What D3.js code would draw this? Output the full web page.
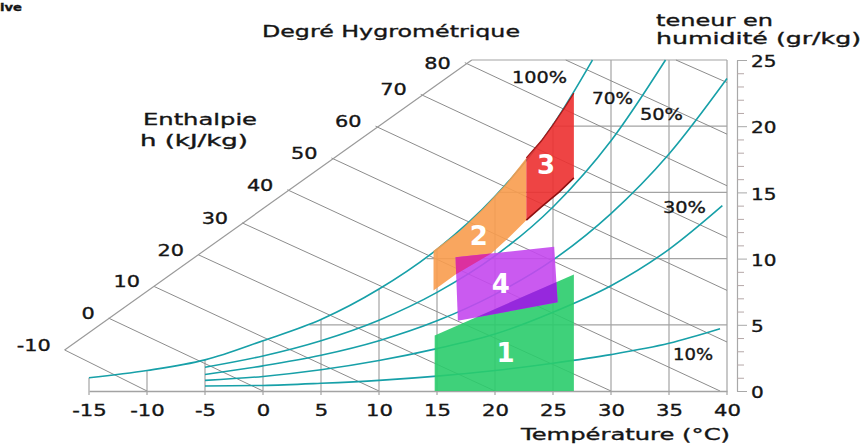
<!DOCTYPE html>
<html>
<head>
<meta charset="utf-8">
<script src="https://cdn.jsdelivr.net/npm/d3@7"></script>
<style>
  body { margin: 0; background: #fff; }
  svg { display: block; font-family: "DejaVu Sans", Verdana, sans-serif; }
  .txt { stroke: #151515; stroke-width: 0.35px; }
</style>
</head>
<body>
<svg id="chart" width="866" height="446"></svg>
<script>
// dry bulb temperature ticks (°C) and the top of each vertical grid line (g/kg)
const tempTicks = [-15, -10, -5, 0, 5, 10, 15, 20, 25, 30, 35, 40];
const tempGridTop = [1.0, 1.55, 2.35, 3.8, 5.4, 7.7, 10.7, 14.7, 20.2, 25, 25, 25];

// moisture content ticks (g/kg), horizontal grid and where each grid line starts (°C)
const humTicks = [0, 1, 2, 3, 4, 5, 6, 7, 8, 9, 10, 11, 12, 13, 14, 15, 16, 17, 18, 19, 20, 21, 22, 23, 24, 25];
const humGrid = [5, 10, 15, 20, 25];
const humGridStart = [4.0, 14.1, 20.3, 25.0, 18.0];

// relative humidity curves (°C -> g/kg)
const rh100T = [-15, -10, -5, 0, 5, 10, 15, 20, 25, 28.4];
const rh100W = [1.0, 1.55, 2.35, 3.8, 5.4, 7.7, 10.7, 14.7, 20.1, 25.0];
const rh70T = [-5, 0, 5, 10, 15, 20, 25, 30, 34.7];
const rh70W = [1.8, 2.65, 3.8, 5.35, 7.45, 10.2, 13.9, 18.9, 25.0];
const rh50T = [-5, 0, 5, 10, 15, 20, 25, 30, 35, 40];
const rh50W = [1.25, 1.9, 2.7, 3.8, 5.3, 7.3, 9.9, 13.4, 17.9, 23.6];
const rh30T = [-5, 0, 5, 10, 15, 20, 25, 30, 35, 39.6];
const rh30W = [0.8, 1.1, 1.6, 2.3, 3.2, 4.3, 5.95, 7.95, 10.7, 14.0];
const rh10T = [-5, 0, 5, 10, 15, 20, 25, 30, 35, 39.4];
const rh10W = [0.38, 0.42, 0.58, 0.8, 1.12, 1.55, 2.1, 2.75, 3.6, 4.7];

// enthalpy (kJ/kg): start and end of each line (°C, g/kg)
const enthalpy = [-10, 0, 10, 20, 30, 40, 50, 60, 70, 80, 90, 100];
const enthStartT = [-17.1, -13.3, -9.4, -5.6, -1.8, 2.1, 5.9, 9.7, 13.6, 17.4, 26.1, 35.6];
const enthStartW = [3.1, 5.5, 7.9, 10.3, 12.7, 15.2, 17.6, 20.0, 22.4, 24.8, 25, 25];
const enthEndT = [-10, 0, 10, 20, 30, 39.4, 40, 40, 40, 40, 40, 40];
const enthEndW = [0, 0, 0, 0, 0, 0, 3.7, 7.6, 11.6, 15.5, 19.4, 23.3];
const enthAxisT = [-17.1, 18.0];
const enthAxisW = [3.1, 25];

// comfort zones (°C, g/kg)
const zone1T = [14.8, 14.8, 26.8, 26.8];
const zone1W = [0, 4.2, 8.8, 0];
const zone2T = [14.7, 14.7, 17, 19, 21, 22.7, 22.7, 21.2, 19.7, 16.6, 14.7];
const zone2W = [7.6, 10.6, 12.1, 13.8, 15.7, 17.6, 12.9, 11.6, 10.4, 8.8, 7.6];
const zone3T = [22.7, 22.7, 24, 25, 26, 26.8, 26.8, 25.5, 24, 22.7];
const zone3W = [12.9, 17.6, 18.9, 20.1, 21.4, 22.5, 16.1, 15.0, 13.9, 12.9];
const zone4T = [16.6, 25.1, 25.4, 16.8];
const zone4W = [10.1, 10.9, 6.7, 5.3];

const svg = d3.select('#chart');
const x = d3.scaleLinear().domain([-15, 40]).range([89, 727]);
const y = d3.scaleLinear().domain([0, 25]).range([391, 60]);

const straight = d3.line().x(d => x(d[0])).y(d => y(d[1]));
const smooth = d3.line().x(d => x(d[0])).y(d => y(d[1])).curve(d3.curveMonotoneX);

function stretch(sel, k) {
  sel.each(function() {
    const w = this.getComputedTextLength();
    d3.select(this).attr('textLength', w * k).attr('lengthAdjust', 'spacingAndGlyphs');
  });
}

function text(str, px, py, size, anchor, width, opts) {
  const t = svg.append('text')
    .attr('class', opts && opts.fill ? null : 'txt')
    .attr('x', px).attr('y', py)
    .attr('font-size', size)
    .attr('text-anchor', anchor)
    .attr('fill', (opts && opts.fill) || '#151515')
    .attr('font-weight', (opts && opts.weight) || 'normal')
    .text(str);
  if (width) t.attr('textLength', width).attr('lengthAdjust', 'spacingAndGlyphs');
  return t;
}

// grid
const grid = svg.append('g').attr('stroke', '#a3a3a3').attr('stroke-width', 1.2);
tempTicks.forEach((t, i) => {
  grid.append('line')
    .attr('x1', x(t)).attr('x2', x(t))
    .attr('y1', y(0) + 4).attr('y2', y(tempGridTop[i]));
});
humGrid.forEach((w, i) => {
  grid.append('line')
    .attr('x1', x(humGridStart[i])).attr('x2', x(40))
    .attr('y1', y(w)).attr('y2', y(w));
});

// enthalpy lines and their slanted scale
const enth = svg.append('g').attr('stroke', '#8c8c8c').attr('stroke-width', 1);
enthalpy.forEach((h, i) => {
  enth.append('line')
    .attr('x1', x(enthStartT[i])).attr('y1', y(enthStartW[i]))
    .attr('x2', x(enthEndT[i])).attr('y2', y(enthEndW[i]));
});
svg.append('path')
  .attr('d', straight(d3.zip(enthAxisT, enthAxisW)))
  .attr('stroke', '#9a9a9a').attr('stroke-width', 1.2).attr('fill', 'none');

// x axis
const xAxis = svg.append('g')
  .attr('transform', `translate(0,${y(0)})`)
  .call(d3.axisBottom(x).tickValues(tempTicks).tickSize(0).tickSizeOuter(0)
    .tickFormat(d => String(d)));
xAxis.select('.domain').attr('stroke', '#a3a3a3').attr('stroke-width', 1.6);
xAxis.selectAll('text')
  .attr('class', 'txt')
  .attr('y', 25).attr('dy', 0)
  .attr('font-size', 16).attr('font-family', '"DejaVu Sans", Verdana, sans-serif')
  .attr('fill', '#151515');
stretch(xAxis.selectAll('text'), 1.32);

// right moisture axis
const yAxis = svg.append('g')
  .attr('transform', 'translate(737,0)')
  .call(d3.axisRight(y).tickValues(humTicks).tickSize(7).tickSizeOuter(0)
    .tickFormat(d => d % 5 === 0 ? String(d) : ''));
yAxis.select('.domain').attr('stroke', '#a8a8a8').attr('stroke-width', 1.2);
yAxis.selectAll('.tick line').attr('stroke', '#b5a8a8')
  .filter(d => d % 5 === 0).attr('x2', 10).attr('stroke', '#a8a8a8');
yAxis.selectAll('text')
  .attr('class', 'txt')
  .attr('x', 14).attr('dy', '0.42em')
  .attr('font-size', 16).attr('font-family', '"DejaVu Sans", Verdana, sans-serif')
  .attr('fill', '#151515');
stretch(yAxis.selectAll('text'), 1.25);

// relative humidity curves
const curves = [
  d3.zip(rh100T, rh100W), d3.zip(rh70T, rh70W), d3.zip(rh50T, rh50W),
  d3.zip(rh30T, rh30W), d3.zip(rh10T, rh10W)
];
svg.append('g').selectAll('path').data(curves).join('path')
  .attr('d', smooth)
  .attr('fill', 'none')
  .attr('stroke', '#17a0a8')
  .attr('stroke-width', 1.6);

// zones
const z1 = d3.zip(zone1T, zone1W);
const z2 = d3.zip(zone2T, zone2W);
const z3 = d3.zip(zone3T, zone3W);
const z4 = d3.zip(zone4T, zone4W);
const defs = svg.append('defs');
defs.append('clipPath').attr('id', 'clip-z1').append('path').attr('d', straight(z1) + 'Z');
defs.append('clipPath').attr('id', 'clip-z2').append('path').attr('d', straight(z2) + 'Z');

const zones = svg.append('g').attr('fill-opacity', 0.9);
zones.append('path').attr('d', straight(z1) + 'Z').attr('fill', '#2acc6c');
zones.append('path').attr('d', straight(z2) + 'Z').attr('fill', '#f89c4e');
zones.append('path').attr('d', straight(z3) + 'Z').attr('fill', '#ec3030');
zones.append('path').attr('d', straight(z4) + 'Z').attr('fill', '#c448ee');
zones.append('path').attr('d', straight(z4) + 'Z').attr('fill', '#9224dc')
  .attr('clip-path', 'url(#clip-z1)');
zones.append('path').attr('d', straight(z4) + 'Z').attr('fill', '#de2c98')
  .attr('clip-path', 'url(#clip-z2)');
// dark rim of zone 3 (saturation side and lower curve)
svg.append('path').attr('d', straight(z3.slice(1, 6)))
  .attr('fill', 'none').attr('stroke', '#a51818').attr('stroke-width', 1.2);
svg.append('path').attr('d', straight(z3.slice(6)))
  .attr('fill', 'none').attr('stroke', '#8e1010').attr('stroke-width', 1.6);

// zone numbers
[['1', 20.9, 2.2], ['2', 18.6, 11.0], ['3', 24.4, 16.4], ['4', 20.5, 7.4]].forEach(d => {
  text(d[0], x(d[1]), y(d[2]), 26, 'middle', null, { fill: '#fff', weight: 'bold' });
});

// curve labels
text('100%', 512, 83, 16, 'start', 55);
text('70%', 592, 104, 16, 'start', 41);
text('50%', 640, 120, 16, 'start', 43);
text('30%', 663, 213, 16, 'start', 43);
text('10%', 673, 360, 16, 'start', 40);

// enthalpy scale labels
enthalpy.slice(0, 10).forEach((h, i) => {
  const t = text(String(h), x(enthStartT[i]) - 14, y(enthStartW[i]) + 1 + (h === 80 ? 5 : 0), 16, 'end');
  stretch(t, 1.3);
});

// titles
text('Degré Hygrométrique', 262, 37, 16, 'start', 258);
text('Enthalpie', 143, 125, 16, 'start', 114);
text('h (kJ/kg)', 140, 146, 16, 'start', 108);
text('teneur en', 656, 26, 16, 'start', 117);
text('humidité (gr/kg)', 656, 44, 16, 'start', 205);
text('Température (°C)', 521, 440, 16, 'start', 209);
text('ive', 0, 11, 11, 'start', 22, { weight: 'bold' });
</script>
</body>
</html>
